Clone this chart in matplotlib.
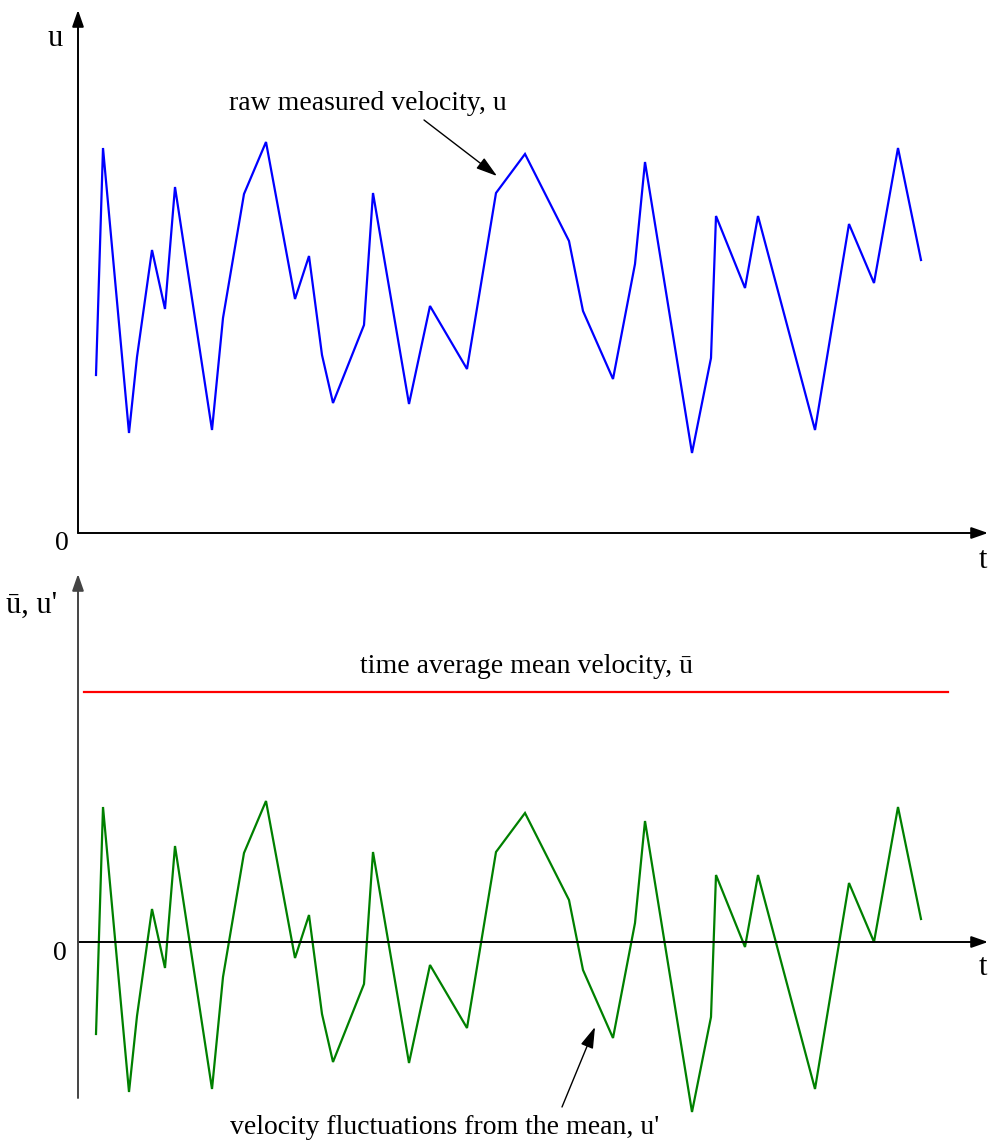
import matplotlib
matplotlib.use("Agg")
import matplotlib.pyplot as plt
import numpy as np

# ---- data ----
t = [0.18, 0.25, 0.51, 0.59, 0.74, 0.87, 0.97, 1.34, 1.45, 1.66, 1.88, 2.17, 2.31,
     2.44, 2.55, 2.86, 2.95, 3.31, 3.52, 3.89, 4.18, 4.47, 4.91, 5.05, 5.35, 5.57,
     5.67, 6.14, 6.33, 6.38, 6.67, 6.80, 7.37, 7.71, 7.96, 8.20, 8.43]
u = [1.58, 3.85, 1.00, 1.76, 2.83, 2.24, 3.46, 1.03, 2.15, 3.39, 3.91, 2.34, 2.77,
     1.78, 1.30, 2.08, 3.40, 1.29, 2.27, 1.64, 3.40, 3.79, 2.92, 2.22, 1.54, 2.69,
     3.71, 0.80, 1.75, 3.17, 2.45, 3.17, 1.03, 3.09, 2.50, 3.85, 2.73]
u_mean = 2.50
mean_span = [0.06, 8.70]
u_fluct = [v - u_mean for v in u]

plt.rcParams['font.family'] = ['Liberation Serif', 'DejaVu Serif']

W, H = 989, 1146
fig = plt.figure(figsize=(W / 100, H / 100), dpi=100)

def add_axes(px_left, px_right, px_bottom, px_top):
    return fig.add_axes([px_left / W, 1 - px_bottom / H,
                         (px_right - px_left) / W, (px_bottom - px_top) / H])

FS = 20
FL = 22
arrow_axis = dict(arrowstyle="-|>,head_length=1.0,head_width=0.35", lw=1.4,
                  shrinkA=0, shrinkB=0)
arrow_note = dict(arrowstyle="-|>,head_length=1.3,head_width=0.4",
                  color="black", lw=1.0, shrinkA=0, shrinkB=0)

# ---- top panel ----
ax1 = add_axes(78, 988, 533, 10)
ax1.set_xlim(0, 9.10)
ax1.set_ylim(0, 5.23)
ax1.axis("off")
ax1.annotate("", xy=(1, 0), xytext=(0, 0), xycoords="axes fraction",
             arrowprops=dict(color="black", **arrow_axis))
ax1.annotate("", xy=(0, 1), xytext=(0, 0), xycoords="axes fraction",
             arrowprops=dict(color="black", **arrow_axis))
ax1.plot(t, u, color="#0000ff", lw=1.6, solid_joinstyle="miter", clip_on=False)
ax1.text(-0.23, 4.95, "u", fontsize=FL, ha="center", va="center")
ax1.text(-0.16, -0.10, "0", fontsize=FS, ha="center", va="center", clip_on=False)
ax1.text(9.05, -0.27, "t", fontsize=FL, ha="center", va="center", clip_on=False)
ax1.text(2.90, 4.30, "raw measured velocity, u", fontsize=FS, ha="center", va="center")
ax1.annotate("", xy=(4.19, 3.57), xytext=(3.46, 4.13), arrowprops=arrow_note)

# ---- bottom panel ----
ax2 = add_axes(78, 988, 1098, 574)
ax2.set_xlim(0, 9.10)
ax2.set_ylim(-1.56, 3.68)
ax2.axis("off")
zero_frac = 1.56 / (1.56 + 3.68)
ax2.annotate("", xy=(1, zero_frac), xytext=(0, zero_frac), xycoords="axes fraction",
             arrowprops=dict(color="black", **arrow_axis))
ax2.annotate("", xy=(0, 1), xytext=(0, 0), xycoords="axes fraction",
             arrowprops=dict(color="#444444", **arrow_axis))
ax2.plot(mean_span, [u_mean, u_mean], color="#ff0000", lw=1.6)
ax2.plot(t, u_fluct, color="#008000", lw=1.6, solid_joinstyle="miter", clip_on=False)
ax2.text(-0.46, 3.37, "\u016b, u'", fontsize=FL, ha="center", va="center",
         clip_on=False)
ax2.text(-0.18, -0.12, "0", fontsize=FS, ha="center", va="center", clip_on=False)
ax2.text(9.05, -0.26, "t", fontsize=FL, ha="center", va="center", clip_on=False)
ax2.text(4.49, 2.75, "time average mean velocity, \u016b", fontsize=FS,
         ha="center", va="center")
ax2.text(3.67, -1.86, "velocity fluctuations from the mean, u'", fontsize=FS,
         ha="center", va="center", clip_on=False)
ax2.annotate("", xy=(5.17, -0.85), xytext=(4.84, -1.65), arrowprops=arrow_note)

fig.savefig("out.png", dpi=100)
